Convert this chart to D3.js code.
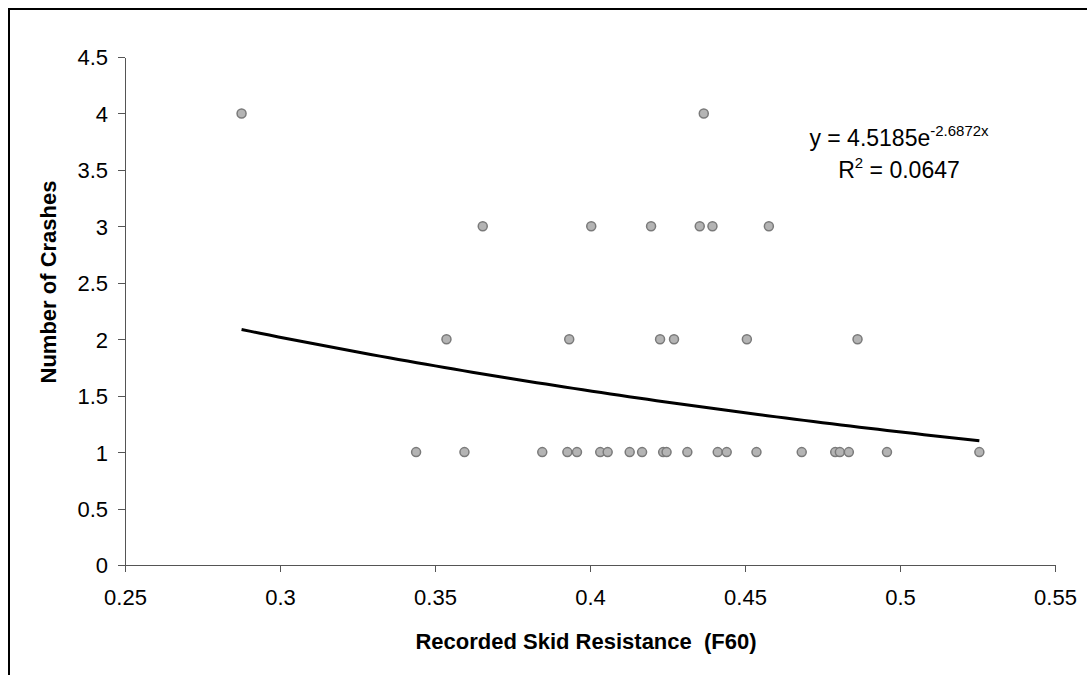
<!DOCTYPE html>
<html>
<head>
<meta charset="utf-8">
<script src="https://cdn.jsdelivr.net/npm/d3@7"></script>
<style>
  body { margin: 0; background: #fff; }
  svg { display: block; font-family: "Liberation Sans", Arial, sans-serif; }
  .axis path, .axis line { stroke: #555; shape-rendering: crispEdges; }
  .axis text { font-size: 22px; fill: #000; }
  .title { white-space: pre; }
</style>
</head>
<body>
<svg width="1087" height="675"></svg>
<script>

// skid resistance (F60) readings and crash counts
var skid = [0.2876, 0.4367,
            0.3654, 0.4004, 0.4197, 0.4354, 0.4395, 0.4577,
            0.3537, 0.3933, 0.4226, 0.4271, 0.4506, 0.4863,
            0.3439, 0.3595, 0.3846, 0.3927, 0.3958, 0.4033, 0.4057, 0.4128, 0.4168,
            0.4236, 0.4247, 0.4314, 0.4412, 0.4441, 0.4537, 0.4683, 0.4791, 0.4806,
            0.4835, 0.4958, 0.5256];
var crashes = [4, 4,
               3, 3, 3, 3, 3, 3,
               2, 2, 2, 2, 2, 2,
               1, 1, 1, 1, 1, 1, 1, 1, 1,
               1, 1, 1, 1, 1, 1, 1, 1, 1,
               1, 1, 1];

var xTicks = [0.25, 0.3, 0.35, 0.4, 0.45, 0.5, 0.55];
var yTicks = [0, 0.5, 1, 1.5, 2, 2.5, 3, 3.5, 4, 4.5];

// exponential trendline as printed on the chart
var trendA = 4.5185, trendB = -2.6872, rSquared = "0.0647";

var svg = d3.select("svg"),
    margin = {top: 57, right: 32, bottom: 110, left: 125},
    width = +svg.attr("width") - margin.left - margin.right,
    height = +svg.attr("height") - margin.top - margin.bottom;

// outer chart frame (runs off the right and bottom edge)
svg.append("rect")
    .attr("x", 9).attr("y", 9)
    .attr("width", 1200).attr("height", 800)
    .attr("fill", "none")
    .attr("stroke", "#000")
    .attr("stroke-width", 2);

var g = svg.append("g").attr("transform", "translate(" + margin.left + "," + margin.top + ")");

var x = d3.scaleLinear().domain([0.25, 0.55]).range([0, width]);
var y = d3.scaleLinear().domain([0, 4.5]).range([height, 0]);

g.append("g")
    .attr("class", "axis axis--x")
    .attr("transform", "translate(0," + height + ")")
    .call(d3.axisBottom(x).tickValues(xTicks).tickFormat(d3.format("")).tickSize(7).tickSizeOuter(0).tickPadding(10));

g.append("g")
    .attr("class", "axis axis--y")
    .call(d3.axisLeft(y).tickValues(yTicks).tickFormat(d3.format("")).tickSize(7).tickSizeOuter(0).tickPadding(10));

g.selectAll(".axis text").attr("dy", "0.36em");
g.selectAll(".axis--x text").attr("dy", "1.05em");

// trendline over the range of the data
var xs = d3.extent(skid);
var trend = d3.range(0, 81).map(function(i) {
  var v = xs[0] + (xs[1] - xs[0]) * i / 80;
  return [v, trendA * Math.exp(trendB * v)];
});

var pts = skid.map(function(d, i) { return {x: d, y: crashes[i]}; });

g.selectAll(".dot")
    .data(pts)
  .enter().append("circle")
    .attr("class", "dot")
    .attr("cx", function(d) { return x(d.x); })
    .attr("cy", function(d) { return y(d.y); })
    .attr("r", 4.5)
    .attr("fill", "#b4b4b4")
    .attr("stroke", "#7a7a7a")
    .attr("stroke-width", 1.5);

g.append("path")
    .datum(trend)
    .attr("fill", "none")
    .attr("stroke", "#000")
    .attr("stroke-width", 3)
    .attr("d", d3.line()
        .x(function(d) { return x(d[0]); })
        .y(function(d) { return y(d[1]); }));

// equation label
var eq = svg.append("text")
    .attr("x", 899).attr("y", 146)
    .attr("text-anchor", "middle")
    .style("font-size", "23px");
eq.append("tspan").text("y = " + trendA + "e");
eq.append("tspan").attr("dy", -10).style("font-size", "15px").text(trendB + "x");

var r2 = svg.append("text")
    .attr("x", 899).attr("y", 178)
    .attr("text-anchor", "middle")
    .style("font-size", "23px");
r2.append("tspan").text("R");
r2.append("tspan").attr("dy", -10).style("font-size", "15px").text("2");
r2.append("tspan").attr("dy", 10).text(" = " + rSquared);

// axis titles
svg.append("text")
    .attr("class", "title")
    .attr("x", 586)
    .attr("y", 649)
    .attr("text-anchor", "middle")
    .style("font-size", "22px")
    .style("font-weight", "bold")
    .text("Recorded Skid Resistance  (F60)");

svg.append("text")
    .attr("class", "title")
    .attr("transform", "rotate(-90)")
    .attr("x", -282)
    .attr("y", 56)
    .attr("text-anchor", "middle")
    .style("font-size", "22px")
    .style("font-weight", "bold")
    .text("Number of Crashes");
</script>
</body>
</html>
